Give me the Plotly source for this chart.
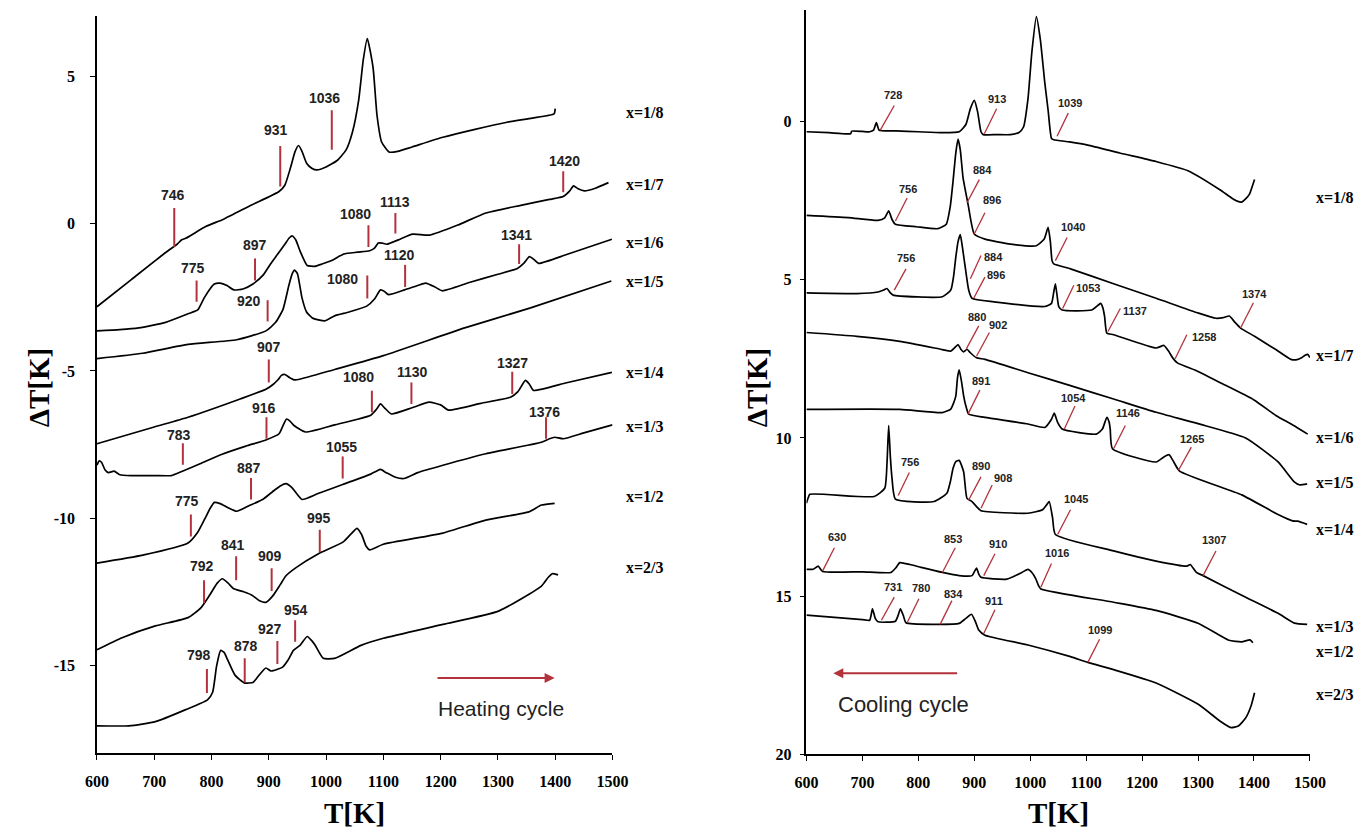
import plotly.graph_objects as go

# ---------------- Heating cycle (left panel) ----------------
heat_labels = ["x=1/8", "x=1/7", "x=1/6", "x=1/5", "x=1/4", "x=1/3", "x=1/2", "x=2/3"]
heat_label_y = [3.77, 1.31, -0.64, -1.95, -5.05, -6.9, -9.26, -11.68]

heat_T_18 = [600, 660, 720, 740, 748, 755, 790, 821, 870, 918, 928, 938, 946, 952, 958, 966, 975, 984, 1000, 1020,
             1035, 1046, 1057, 1065, 1072, 1082, 1089, 1097, 1110, 1125, 1150, 1204, 1260, 1316, 1360, 1398, 1400]
heat_V_18 = [-2.82, -1.9, -0.98, -0.7, -0.55, -0.5, -0.1, 0.15, 0.63, 1.09, 1.3, 1.9, 2.45, 2.65, 2.45, 2.05, 1.88, 1.82, 1.92, 2.15,
             2.5, 3.1, 4.2, 5.56, 6.28, 5.3, 3.66, 2.77, 2.43, 2.45, 2.6, 2.93, 3.2, 3.44, 3.58, 3.72, 3.9]

heat_T_17 = [600, 640, 673, 720, 759, 776, 787, 798, 805, 815, 827, 839, 855, 873, 890, 903, 915, 928, 936, 941,
             947, 955, 967, 980, 993, 1010, 1031, 1055, 1076, 1085, 1091, 1098, 1106, 1130, 1151, 1181, 1230, 1279, 1340, 1390,
             1414, 1425, 1432, 1440, 1451, 1470, 1493]
heat_V_17 = [-3.64, -3.6, -3.54, -3.35, -3.06, -2.93, -2.53, -2.2, -2.05, -2.02, -2.1, -2.25, -2.22, -2.04, -1.75, -1.37, -1.05, -0.7, -0.48, -0.42,
             -0.55, -0.95, -1.42, -1.45, -1.37, -1.25, -1.03, -0.97, -0.92, -0.82, -0.66, -0.66, -0.70, -0.52, -0.36, -0.39, -0.05, 0.36, 0.62, 0.82,
             0.92, 1.1, 1.28, 1.18, 1.11, 1.2, 1.39]

heat_T_16 = [600, 680, 759, 844, 895, 912, 925, 935, 941, 945, 950, 958, 966, 976, 998, 1015, 1040, 1071, 1085, 1095,
             1102, 1109, 1137, 1160, 1174, 1190, 1203, 1250, 1300, 1334, 1345, 1355, 1363, 1371, 1420, 1499]
heat_V_16 = [-4.58, -4.4, -4.1, -3.94, -3.64, -3.35, -2.9, -2.1, -1.7, -1.58, -1.7, -2.52, -3.0, -3.2, -3.3, -3.13, -3.0, -2.8, -2.55, -2.25,
             -2.3, -2.41, -2.25, -2.1, -2.02, -2.15, -2.28, -2.0, -1.72, -1.52, -1.35, -1.12, -1.22, -1.35, -1.05, -0.53]

heat_T_15 = [600, 700, 759, 850, 895, 908, 916, 922, 928, 936, 944, 952, 1015, 1100, 1242, 1357, 1498]
heat_V_15 = [-7.47, -6.9, -6.57, -5.95, -5.62, -5.45, -5.3, -5.15, -5.12, -5.22, -5.3, -5.29, -4.95, -4.48, -3.54, -2.86, -1.95]

heat_T_14 = [600, 604, 608, 614, 620, 630, 640, 660, 700, 730, 747, 780, 815, 860, 895, 918, 925, 931, 937, 944,
             964, 1015, 1078, 1088, 1095, 1102, 1114, 1150, 1180, 1200, 1214, 1270, 1322, 1335, 1348, 1355, 1362, 1420, 1499]
heat_V_14 = [-8.2, -8.05, -8.1, -8.35, -8.45, -8.4, -8.52, -8.55, -8.55, -8.55, -8.42, -8.15, -7.85, -7.55, -7.34, -7.13, -6.85, -6.63, -6.7, -6.85,
             -7.07, -6.83, -6.5, -6.3, -6.12, -6.25, -6.46, -6.25, -6.06, -6.15, -6.33, -6.1, -5.89, -5.7, -5.32, -5.45, -5.66, -5.4, -5.05]

heat_T_13 = [600, 680, 759, 775, 788, 798, 805, 815, 830, 844, 867, 890, 907, 920, 930, 940, 958, 986, 1029, 1078,
             1088, 1095, 1105, 1120, 1136, 1160, 1204, 1279, 1376, 1390, 1399, 1414, 1450, 1500]
heat_V_13 = [-11.52, -11.25, -10.84, -10.5, -10.03, -9.65, -9.46, -9.5, -9.65, -9.76, -9.56, -9.35, -9.09, -8.9, -8.82, -8.95, -9.36, -9.16, -8.85, -8.5,
             -8.4, -8.34, -8.45, -8.6, -8.65, -8.45, -8.2, -7.81, -7.42, -7.3, -7.25, -7.3, -7.1, -6.83]

heat_T_12 = [600, 644, 702, 759, 781, 796, 810, 819, 829, 839, 856, 870, 884, 895, 907, 920, 930, 947, 986, 1030,
             1045, 1054, 1062, 1070, 1076, 1100, 1204, 1279, 1354, 1376, 1399]
heat_V_12 = [-14.46, -14.05, -13.65, -13.37, -13.05, -12.63, -12.2, -12.05, -12.2, -12.39, -12.49, -12.6, -12.8, -12.85, -12.63, -12.25, -11.95, -11.68, -11.21, -10.8,
             -10.5, -10.34, -10.55, -10.95, -11.07, -10.88, -10.5, -10.06, -9.78, -9.55, -9.49]

heat_T_23 = [600, 656, 702, 754, 793, 802, 809, 816, 822, 827, 841, 858, 873, 884, 895, 904, 924, 934, 943, 955,
             967, 975, 981, 995, 1015, 1061, 1100, 1204, 1301, 1376, 1388, 1395, 1405]
heat_V_23 = [-17.04, -17.04, -16.9, -16.5, -16.16, -15.9, -15.0, -14.48, -14.55, -14.75, -15.32, -15.59, -15.56, -15.3, -15.08, -15.18, -15.05, -14.8, -14.48, -14.3,
             -14.01, -14.15, -14.31, -14.75, -14.75, -14.31, -14.07, -13.6, -13.15, -12.3, -12.0, -11.88, -11.92]

heat_T = [heat_T_18, heat_T_17, heat_T_16, heat_T_15, heat_T_14, heat_T_13, heat_T_12, heat_T_23]
heat_V = [heat_V_18, heat_V_17, heat_V_16, heat_V_15, heat_V_14, heat_V_13, heat_V_12, heat_V_23]

# marked temperatures: text, marker T, marker bottom, marker top, label T, label V
heat_mark_text = ["1036", "931", "746", "1420", "1080", "1113", "897", "775", "1341", "1120", "1080", "920",
                  "907", "1327", "1080", "1130", "916", "1376", "783", "1055", "887", "775", "995", "841",
                  "909", "792", "954", "927", "878", "798"]
heat_mark_T = [1010, 920, 735, 1414, 1074, 1121, 876, 774, 1337, 1138, 1072, 898,
               900, 1325, 1080, 1149, 896, 1384, 750, 1029, 869, 764, 989, 843,
               905, 787, 946, 915, 858, 792]
heat_mark_lo = [2.51, 1.26, -0.79, 1.06, -0.79, -0.34, -1.93, -2.65, -1.37, -2.15, -2.54, -3.32,
                -5.39, -5.78, -6.4, -6.12, -7.3, -7.3, -8.18, -8.65, -9.36, -10.62, -11.15, -12.1,
                -12.47, -12.87, -14.19, -14.94, -15.56, -15.93]
heat_mark_hi = [3.85, 2.63, 0.53, 1.78, -0.06, 0.36, -1.18, -1.93, -0.7, -1.4, -1.76, -2.6,
                -4.61, -5.03, -5.67, -5.39, -6.57, -6.57, -7.45, -7.9, -8.63, -9.87, -10.39, -11.29,
                -11.69, -12.1, -13.46, -14.16, -14.75, -15.11]
heat_text_T = [997, 912, 733, 1416, 1052, 1121, 876, 768, 1333, 1128, 1029, 866,
               900, 1325, 1057, 1151, 892, 1382, 744, 1027, 866, 757, 987, 838,
               903, 783, 948, 903, 860, 779]
heat_text_V = [4.27, 3.16, 0.96, 2.13, 0.33, 0.73, -0.73, -1.5, -0.39, -1.07, -1.87, -2.62,
               -4.2, -4.72, -5.2, -5.02, -6.27, -6.38, -7.19, -7.58, -8.29, -9.42, -9.98, -10.9,
               -11.27, -11.63, -13.12, -13.76, -14.33, -14.63]

# ---------------- Cooling cycle (right panel) ----------------
cool_labels = ["x=1/8", "x=1/7", "x=1/6", "x=1/5", "x=1/4", "x=1/3", "x=1/2", "x=2/3"]
cool_label_y = [2.4, 7.4, 9.98, 11.4, 12.9, 15.95, 16.75, 18.1]

cool_T_18 = [600, 640, 679, 681, 700, 713, 720, 725, 730, 760, 800, 843, 873, 885, 893, 900, 906, 912, 916, 940,
             965, 980, 988, 996, 1003, 1011, 1018, 1026, 1032, 1038, 1042, 1070, 1103, 1160, 1225, 1282, 1339, 1360, 1370, 1378,
             1385, 1392, 1397, 1401]
cool_V_18 = [0.33, 0.36, 0.39, 0.31, 0.32, 0.33, 0.28, 0.04, 0.28, 0.3, 0.33, 0.36, 0.33, 0.1, -0.4, -0.66, -0.3, 0.33, 0.42, 0.42,
             0.42, 0.35, 0.18, -0.71, -2.2, -3.31, -2.6, -1.23, -0.35, 0.54, 0.58, 0.65, 0.75, 1.0, 1.27, 1.56, 2.16, 2.42, 2.52, 2.55,
             2.45, 2.3, 2.05, 1.84]

cool_T_17 = [600, 675, 728, 740, 747, 753, 759, 797, 835, 850, 857, 862, 867, 871, 875, 880, 889, 900, 919, 965,
             1011, 1025, 1032, 1036, 1039, 1042, 1072, 1149, 1225, 1301, 1332, 1345, 1356, 1366, 1376, 1401, 1439, 1466, 1477, 1485,
             1492, 1496, 1500]
cool_V_17 = [2.97, 3.04, 3.13, 3.05, 2.83, 3.1, 3.25, 3.33, 3.39, 3.25, 2.7, 1.9, 1.0, 0.56, 0.9, 1.79, 2.63, 3.56, 3.72, 3.88,
             3.93, 3.72, 3.35, 3.8, 4.4, 4.5, 4.66, 5.13, 5.59, 6.06, 6.22, 6.2, 6.15, 6.35, 6.53, 6.79, 7.21, 7.52, 7.53, 7.47,
             7.38, 7.36, 7.46]

cool_T_16 = [600, 690, 728, 738, 744, 750, 755, 843, 858, 863, 867, 871, 875, 879, 883, 890, 896, 935, 1026, 1038,
             1042, 1045, 1048, 1051, 1057, 1110, 1122, 1126, 1130, 1133, 1137, 1149, 1225, 1239, 1247, 1255, 1263, 1300, 1339, 1400,
             1439, 1470, 1496]
cool_V_16 = [5.42, 5.44, 5.39, 5.33, 5.28, 5.42, 5.49, 5.54, 5.33, 4.9, 4.29, 3.8, 3.58, 4.0, 4.5, 5.33, 5.59, 5.7, 5.85, 5.75,
             5.4, 5.13, 5.5, 5.85, 5.96, 5.96, 5.8, 5.75, 5.9, 6.17, 6.69, 6.74, 7.16, 7.08, 7.25, 7.48, 7.63, 7.9, 8.25, 8.8,
             9.29, 9.6, 9.88]

cool_T_15 = [600, 690, 767, 843, 858, 865, 871, 876, 881, 887, 893, 904, 919, 996, 1072, 1149, 1225, 1300, 1385, 1443,
             1472, 1481, 1495]
cool_V_15 = [6.67, 6.79, 6.95, 7.21, 7.26, 7.15, 7.05, 7.2, 7.28, 7.2, 7.31, 7.47, 7.52, 7.94, 8.35, 8.77, 9.19, 9.55, 10.0, 10.76,
             11.39, 11.48, 11.45]

cool_T_14 = [600, 767, 843, 858, 863, 867, 870, 873, 877, 881, 885, 890, 919, 996, 1026, 1038, 1043, 1049, 1057, 1118,
             1129, 1137, 1141, 1143, 1147, 1225, 1239, 1248, 1255, 1267, 1378, 1443, 1469, 1478, 1495]
cool_V_14 = [9.1, 9.1, 9.2, 9.09, 8.9, 8.68, 8.1, 7.85, 8.2, 8.67, 8.99, 9.25, 9.35, 9.56, 9.67, 9.41, 9.22, 9.51, 9.72, 9.88,
             9.72, 9.35, 9.5, 9.72, 10.34, 10.76, 10.6, 10.53, 10.71, 11.05, 11.8, 12.42, 12.62, 12.63, 12.73]

cool_T_13 = [600, 603, 606, 721, 740, 744, 747, 750, 753, 759, 828, 851, 857, 862, 867, 873, 881, 887, 896, 904,
             912, 996, 1022, 1030, 1034, 1040, 1045, 1149, 1225, 1280, 1286, 1297, 1309, 1378, 1443, 1472, 1495]
cool_V_13 = [12.06, 11.9, 11.78, 11.85, 11.59, 10.8, 9.61, 10.6, 11.28, 11.93, 12.01, 11.75, 11.4, 10.97, 10.75, 10.71, 11.07, 11.91, 12.01, 12.17,
             12.3, 12.38, 12.27, 12.1, 12.01, 12.53, 13.05, 13.57, 13.89, 14.05, 14.0, 14.25, 14.35, 14.97, 15.54, 15.85, 15.89]

cool_T_12 = [600, 612, 621, 629, 700, 751, 760, 767, 785, 805, 843, 873, 896, 901, 904, 908, 912, 958, 985, 996,
             1003, 1010, 1015, 1019, 1149, 1225, 1301, 1355, 1378, 1393, 1398]
cool_V_12 = [14.15, 14.15, 14.05, 14.22, 14.23, 14.25, 14.1, 13.94, 14.0, 14.09, 14.25, 14.35, 14.35, 14.2, 14.11, 14.3, 14.4, 14.46, 14.25, 14.15,
             14.25, 14.45, 14.67, 14.77, 15.19, 15.45, 15.86, 16.39, 16.44, 16.38, 16.47]

cool_T_23 = [600, 700, 713, 718, 723, 728, 759, 764, 768, 773, 778, 828, 873, 885, 895, 902, 908, 919, 996, 1072,
             1103, 1149, 1225, 1301, 1339, 1359, 1372, 1385, 1395, 1401]
cool_V_23 = [15.6, 15.74, 15.76, 15.4, 15.7, 15.81, 15.79, 15.6, 15.4, 15.6, 15.84, 15.89, 15.86, 15.7, 15.57, 15.8, 16.07, 16.23, 16.54, 16.91,
             17.09, 17.32, 17.74, 18.42, 18.94, 19.15, 19.1, 18.85, 18.45, 18.05]

cool_T = [cool_T_18, cool_T_17, cool_T_16, cool_T_15, cool_T_14, cool_T_13, cool_T_12, cool_T_23]
cool_V = [cool_V_18, cool_V_17, cool_V_16, cool_V_15, cool_V_14, cool_V_13, cool_V_12, cool_V_23]

# marked temperatures: text, line start (T,V), line end (T,V), label (T,V)
cool_mark_text = ["728", "913", "1039", "756", "884", "896", "1040", "756", "884", "896", "1053", "1137",
                  "1374", "1258", "880", "902", "891", "1054", "1146", "1265", "756", "890", "908", "1045",
                  "630", "853", "910", "1016", "1307", "731", "780", "834", "911", "1099"]
cool_mark_T0 = [732, 918, 1048, 759, 887, 900, 1045, 757, 893, 899, 1058, 1139,
                1376, 1259, 886, 904, 889, 1061, 1149, 1265, 764, 890, 912, 1049,
                629, 843, 917, 1019, 1309, 734, 780, 839, 917, 1103]
cool_mark_V0 = [0.28, 0.39, 0.47, 3.15, 2.57, 3.56, 4.4, 5.33, 4.97, 5.59, 5.91, 6.64,
                6.53, 7.5, 7.18, 7.42, 9.24, 9.72, 10.34, 11.02, 11.82, 11.96, 12.22, 13.05,
                14.2, 14.25, 14.35, 14.72, 14.35, 15.76, 15.84, 15.89, 16.18, 17.09]
cool_mark_T1 = [757, 940, 1068, 780, 909, 919, 1066, 778, 912, 919, 1078, 1161,
                1399, 1280, 908, 927, 910, 1080, 1170, 1288, 784, 912, 932, 1072,
                650, 866, 937, 1038, 1332, 757, 801, 860, 937, 1124]
cool_mark_V1 = [-0.5, -0.4, -0.26, 2.42, 1.84, 2.89, 3.67, 4.66, 4.24, 4.92, 5.18, 5.91,
                5.73, 6.74, 6.46, 6.67, 8.49, 8.99, 9.61, 10.29, 11.09, 11.23, 11.49, 12.27,
                13.47, 13.47, 13.66, 13.97, 13.57, 15.03, 15.08, 15.14, 15.43, 16.36]
cool_text_T = [755, 941, 1071, 782, 914, 931, 1076, 778, 935, 938, 1103, 1188,
               1401, 1310, 904, 942, 912, 1078, 1175, 1290, 786, 912, 951, 1081,
               654, 862, 942, 1048, 1328, 755, 805, 862, 936, 1124]
cool_text_V = [-0.84, -0.71, -0.57, 2.14, 1.53, 2.5, 3.35, 4.32, 4.27, 4.84, 5.28, 5.98,
               5.44, 6.81, 6.17, 6.43, 8.2, 8.73, 9.22, 10.03, 10.76, 10.9, 11.26, 11.94,
               13.14, 13.18, 13.34, 13.64, 13.23, 14.7, 14.75, 14.93, 15.16, 16.07]

x_ticks = [600, 700, 800, 900, 1000, 1100, 1200, 1300, 1400, 1500]
x_tick_text = ["600", "700", "800", "900", "1000", "1100", "1200", "1300", "1400", "1500"]
heat_y_ticks = [-15, -10, -5, 0, 5]
heat_y_text = ["-15", "-10", "-5", "0", "5"]
cool_y_ticks = [0, 5, 10, 15, 20]
cool_y_text = ["0", "5", "10", "15", "20"]

# ---------------- figure ----------------
RED = "#b3323c"
SERIF = "Liberation Serif, Times New Roman, serif"
SANS = "Liberation Sans, Arial, sans-serif"
NARROW = "Liberation Sans Narrow, Arial Narrow, Liberation Sans, sans-serif"

fig = go.Figure()
line_style = dict(color="black", width=1.7, shape="spline", smoothing=0.5)
for T, V in zip(heat_T, heat_V):
    fig.add_trace(go.Scatter(x=T, y=V, mode="lines", line=line_style, xaxis="x", yaxis="y",
                             hoverinfo="skip"))
for T, V in zip(cool_T, cool_V):
    fig.add_trace(go.Scatter(x=T, y=V, mode="lines", line=line_style, xaxis="x2", yaxis="y2",
                             hoverinfo="skip"))

shapes = []
annotations = []
for txt, t, lo, hi, tt, tv in zip(heat_mark_text, heat_mark_T, heat_mark_lo, heat_mark_hi, heat_text_T, heat_text_V):
    shapes.append(dict(type="line", xref="x", yref="y", x0=t, x1=t, y0=lo, y1=hi,
                       line=dict(color=RED, width=2)))
    annotations.append(dict(x=tt, y=tv, xref="x", yref="y", text=txt, showarrow=False,
                            xanchor="center", yanchor="middle",
                            font=dict(family=SANS, size=14, color="#222222", weight="bold")))

for txt, t0, v0, t1, v1, tt, tv in zip(cool_mark_text, cool_mark_T0, cool_mark_V0, cool_mark_T1, cool_mark_V1,
                                        cool_text_T, cool_text_V):
    shapes.append(dict(type="line", xref="x2", yref="y2", x0=t0, x1=t1, y0=v0, y1=v1,
                       line=dict(color=RED, width=1.3)))
    annotations.append(dict(x=tt, y=tv, xref="x2", yref="y2", text=txt, showarrow=False,
                            xanchor="center", yanchor="middle",
                            font=dict(family=NARROW, size=11, color="#222222", weight="bold")))

for lab, yv in zip(heat_labels, heat_label_y):
    annotations.append(dict(x=646 / 1371, y=yv, xref="paper", yref="y", text=lab, showarrow=False,
                            xanchor="center", yanchor="middle",
                            font=dict(family=SERIF, size=16, color="black", weight="bold")))
for lab, yv in zip(cool_labels, cool_label_y):
    annotations.append(dict(x=1351 / 1371, y=yv, xref="paper", yref="y2", text=lab, showarrow=False,
                            xanchor="center", yanchor="middle",
                            font=dict(family=SERIF, size=16, color="black", weight="bold")))

# cycle arrows
annotations.append(dict(x=1399, y=-15.42, ax=1192, ay=-15.42, xref="x", yref="y", axref="x", ayref="y",
                        text="", showarrow=True, arrowhead=2, arrowsize=1, arrowwidth=2, arrowcolor=RED))
annotations.append(dict(x=1305, y=-16.46, xref="x", yref="y", text="Heating cycle", showarrow=False,
                        xanchor="center", yanchor="middle",
                        font=dict(family=SANS, size=21, color="#222222")))
annotations.append(dict(x=648, y=17.43, ax=872, ay=17.43, xref="x2", yref="y2", axref="x2", ayref="y2",
                        text="", showarrow=True, arrowhead=2, arrowsize=1, arrowwidth=2, arrowcolor=RED))
annotations.append(dict(x=773, y=18.42, xref="x2", yref="y2", text="Cooling cycle", showarrow=False,
                        xanchor="center", yanchor="middle",
                        font=dict(family=SANS, size=22, color="#222222")))

# axis titles
title_font = dict(family=SERIF, size=29, color="black", weight="bold")
for tx, ty, txt, ang in [(350, 822, "T[K]", 0), (1068, 822, "T[K]", 0),
                         (27, 392, "ΔT[K]", -90), (760, 392, "ΔT[K]", -90)]:
    annotations.append(dict(x=tx / 1371, y=(836 - ty) / 836, xref="paper", yref="paper", text=txt,
                            showarrow=False, textangle=ang, xanchor="center", yanchor="middle",
                            font=title_font))

tick_font = dict(family=SERIF, size=16, color="black", weight="bold")
axis_common = dict(showline=True, linecolor="black", linewidth=1.5, ticks="outside", ticklen=5,
                   tickwidth=1.2, tickcolor="black", showgrid=False, zeroline=False, tickfont=tick_font)

fig.update_layout(
    width=1371, height=836,
    margin=dict(l=0, r=0, t=0, b=0),
    paper_bgcolor="white", plot_bgcolor="white",
    showlegend=False,
    xaxis=dict(domain=[86.7 / 1371, 613 / 1371], range=[600, 1500], tickvals=x_ticks, ticktext=x_tick_text,
               ticklabelstandoff=8, anchor="y", **axis_common),
    yaxis=dict(domain=[(836 - 761.7) / 836, (836 - 16) / 836], range=[-17.98, 7.05], tickvals=heat_y_ticks,
               ticktext=heat_y_text, ticklabelstandoff=12, anchor="x", **axis_common),
    xaxis2=dict(domain=[811 / 1371, 1325 / 1371], range=[600, 1500], tickvals=x_ticks, ticktext=x_tick_text,
                ticklabelstandoff=8, anchor="y2", **axis_common),
    yaxis2=dict(domain=[(836 - 762.7) / 836, (836 - 10) / 836], range=[20, -3.52], tickvals=cool_y_ticks,
                ticktext=cool_y_text, ticklabelstandoff=5, anchor="x2", **axis_common),
    shapes=shapes,
    annotations=annotations,
)

fig.write_html("out.html")
